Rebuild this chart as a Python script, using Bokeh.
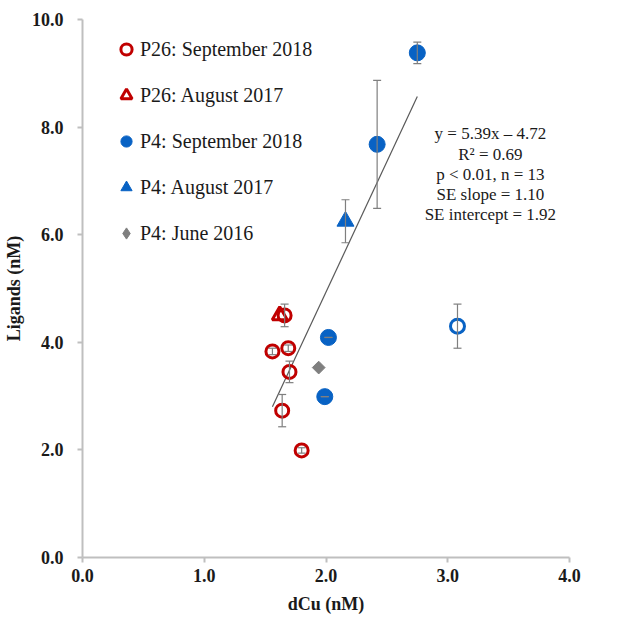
from bokeh.plotting import figure
from bokeh.models import Range1d, Whisker, ColumnDataSource, Legend, LegendItem, TeeHead, FixedTicker
from bokeh.embed import file_html
from bokeh.resources import INLINE
from bokeh.core.properties import value

# ---- data ----
p26_sep_x = [1.66, 1.56, 1.69, 1.70, 1.64, 1.80]
p26_sep_y = [4.50, 3.83, 3.89, 3.45, 2.73, 1.99]
p26_sep_err = [0.21, 0.06, 0.06, 0.20, 0.30, 0.05]

p26_aug_x = [1.62]
p26_aug_y = [4.50]

p4_sep_x = [2.75, 2.42, 2.02, 1.99]
p4_sep_y = [9.38, 7.68, 4.09, 2.99]
p4_sep_err = [0.20, 1.19, 0.0, 0.0]

p4_sep_out_x = [3.08]
p4_sep_out_y = [4.30]
p4_sep_out_err = [0.41]

p4_aug_x = [2.16]
p4_aug_y = [6.25]
p4_aug_err = [0.40]

p4_jun_x = [1.94]
p4_jun_y = [3.53]

trend_x = [1.56, 2.75]
trend_y = [2.80, 8.57]

legend_labels = ["P26: September 2018", "P26: August 2017", "P4: September 2018",
                 "P4: August 2017", "P4: June 2016"]
stats_lines = ["y = 5.39x \u2013 4.72", "R\u00b2 = 0.69", "p < 0.01, n = 13",
               "SE slope = 1.10", "SE intercept = 1.92"]
x_ticks = [0, 1, 2, 3, 4]
x_tick_labels = ["0.0", "1.0", "2.0", "3.0", "4.0"]
y_ticks = [0, 2, 4, 6, 8, 10]
y_tick_labels = ["0.0", "2.0", "4.0", "6.0", "8.0", "10.0"]

RED = "#C00000"
BLUE = "#0862C4"
GRAY = "#7F7F7F"
FONT = "Liberation Serif"

p = figure(width=638, height=617, output_backend="svg", toolbar_location=None,
           x_range=Range1d(0, 4), y_range=Range1d(0, 10),
           min_border_left=82, min_border_right=69, min_border_top=19, min_border_bottom=60)
p.outline_line_color = None
p.grid.grid_line_color = None
p.background_fill_color = "white"

for ax in (p.xaxis[0], p.yaxis[0]):
    ax.axis_line_color = "#BFBFBF"
    ax.axis_line_width = 2
    ax.major_tick_line_color = "#BFBFBF"
    ax.major_tick_line_width = 2
    ax.major_tick_out = 5
    ax.major_tick_in = 0
    ax.minor_tick_line_color = None
    ax.major_label_text_font = FONT
    ax.major_label_text_font_style = "bold"
    ax.major_label_text_font_size = "18px"
    ax.major_label_text_color = "#1a1a1a"
    ax.axis_label_text_font = FONT
    ax.axis_label_text_font_style = "bold"
    ax.axis_label_text_font_size = "18px"
    ax.axis_label_text_color = "#1a1a1a"

p.xaxis.ticker = FixedTicker(ticks=x_ticks)
p.xaxis.major_label_overrides = {t: l for t, l in zip(x_ticks, x_tick_labels)}
p.yaxis.ticker = FixedTicker(ticks=y_ticks)
p.yaxis.major_label_overrides = {t: l for t, l in zip(y_ticks, y_tick_labels)}
p.xaxis.axis_label = "dCu (nM)"
p.yaxis.axis_label = "Ligands (nM)"
p.xaxis.major_label_standoff = 6
p.xaxis.axis_label_standoff = 9
p.yaxis.major_label_standoff = 14
p.yaxis.axis_label_standoff = 5

# error bars
def add_err(xs, ys, es):
    src = ColumnDataSource(dict(x=xs, lo=[y - e for y, e in zip(ys, es)],
                                hi=[y + e for y, e in zip(ys, es)]))
    w = Whisker(source=src, base="x", lower="lo", upper="hi", dimension="height",
                line_color=GRAY, line_width=1.2, level="glyph",
                upper_head=TeeHead(size=8, line_color=GRAY, line_width=1.2),
                lower_head=TeeHead(size=8, line_color=GRAY, line_width=1.2))
    p.add_layout(w)

add_err(p26_sep_x, p26_sep_y, p26_sep_err)
add_err(p4_sep_x, p4_sep_y, p4_sep_err)
add_err(p4_sep_out_x, p4_sep_out_y, p4_sep_out_err)
add_err(p4_aug_x, p4_aug_y, p4_aug_err)

# trend line
p.line(trend_x, trend_y, line_color="#595959", line_width=1.2)

r_p26_aug = p.scatter(p26_aug_x, p26_aug_y, marker="triangle", size=15, fill_color=None,
                      line_color=RED, line_width=3)
r_p26_sep = p.scatter(p26_sep_x, p26_sep_y, marker="circle", size=13, fill_color=None,
                      line_color=RED, line_width=3)
r_p4_sep = p.scatter(p4_sep_x, p4_sep_y, marker="circle", size=16, fill_color=BLUE,
                     line_color=BLUE, line_width=1)
p.scatter(p4_sep_out_x, p4_sep_out_y, marker="circle", size=14, fill_color=None,
          line_color=BLUE, line_width=3)
r_p4_aug = p.scatter(p4_aug_x, p4_aug_y, marker="triangle", size=17, fill_color=BLUE,
                     line_color=BLUE, line_width=1)
p.scatter(p4_jun_x, p4_jun_y, marker="square", angle=0.785398, size=9,
          fill_color=GRAY, line_color=GRAY, line_width=1)
# legend swatch for the June 2016 series (rotated-square look), not drawn in the plot
r_p4_jun_key = p.scatter([float("nan")], [float("nan")], marker="diamond", size=12,
                         fill_color=GRAY, line_color=GRAY, line_width=1)

# stats annotation
ann_x = 3.35
ann_y0 = 7.875
ann_step = 0.376
p.text(x=[ann_x] * len(stats_lines),
       y=[ann_y0 - i * ann_step for i in range(len(stats_lines))],
       text=stats_lines, text_align="center", text_baseline="middle",
       text_font=value(FONT), text_font_size="17px", text_color="#1a1a1a")

renderers = [r_p26_sep, r_p26_aug, r_p4_sep, r_p4_aug, r_p4_jun_key]
legend = Legend(items=[LegendItem(label=l, renderers=[r]) for l, r in zip(legend_labels, renderers)],
                location=(30, 309), margin=0, padding=0, glyph_width=28, glyph_height=30,
                label_height=30, spacing=16, label_standoff=0,
                label_text_font=FONT, label_text_font_size="20px", label_text_color="#1a1a1a",
                border_line_color=None, background_fill_alpha=0)
p.add_layout(legend)

open("out.html", "w").write(file_html(p, INLINE))
